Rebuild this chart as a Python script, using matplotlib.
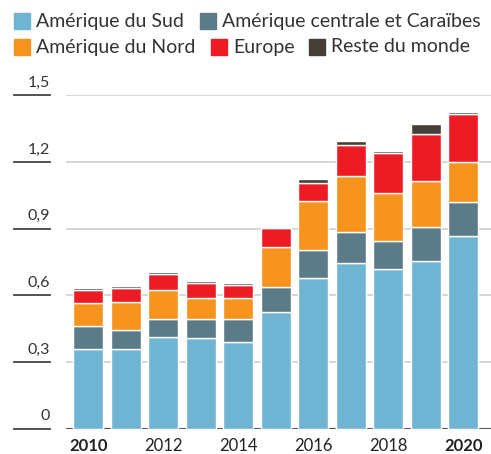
import matplotlib.pyplot as plt
import matplotlib.transforms as mtransforms
from matplotlib.patches import Rectangle
import numpy as np

plt.rcParams['font.family'] = ['Lato', 'DejaVu Sans']

years = np.arange(2010, 2021)
series_names = ["Amérique du Sud", "Amérique centrale et Caraïbes",
                "Amérique du Nord", "Europe", "Reste du monde"]
sud = [0.360, 0.360, 0.414, 0.408, 0.390, 0.527, 0.677, 0.744, 0.719, 0.755, 0.869]
centrale = [0.102, 0.084, 0.080, 0.087, 0.104, 0.109, 0.129, 0.140, 0.126, 0.153, 0.151]
nord = [0.104, 0.128, 0.130, 0.092, 0.093, 0.183, 0.217, 0.252, 0.216, 0.205, 0.180]
europe = [0.060, 0.063, 0.072, 0.067, 0.060, 0.086, 0.084, 0.142, 0.181, 0.215, 0.215]
reste = [0.009, 0.007, 0.008, 0.009, 0.009, 0.003, 0.015, 0.015, 0.009, 0.042, 0.010]
yticks = [0, 0.3, 0.6, 0.9, 1.2, 1.5]
ytick_labels = ["0", "0,3", "0,6", "0,9", "1,2", "1,5"]
xtick_years = [2010, 2012, 2014, 2016, 2018, 2020]
bold_years = [2010, 2020]

colors = ["#6fb5d3", "#5c7b89", "#f7941d", "#ed1c24", "#463f35"]

W, H = 491, 454
fig = plt.figure(figsize=(W / 100, H / 100), dpi=100)
ax = fig.add_axes([66 / W, 1 - 428.7 / H, 1 - 66 / W, (428.7 - 95.3) / H])

# gridlines behind the bars
for v in yticks[1:]:
    ax.axhline(v, color="#d0d0d0", lw=1.2, zorder=0)
ax.axhline(0, color="#555555", lw=1.5, zorder=0)

bottom = np.zeros(len(years))
for vals, c in zip([sud, centrale, nord, europe, reste], colors):
    ax.bar(years, vals, width=0.8, bottom=bottom, color=c,
           edgecolor="white", linewidth=1, zorder=2)
    bottom += np.array(vals)

ax.set_xlim(2009.405, 2020.74)
ax.set_ylim(0, 1.5)
ax.axis("off")

# y labels with short underline at the left
trans = mtransforms.blended_transform_factory(fig.transFigure, ax.transData)
for v, lab in zip(yticks, ytick_labels):
    ax.plot([14 / W, 50 / W], [v, v], transform=trans, color="#444444",
            lw=1.3, clip_on=False)
    ax.text(50 / W, v + 0.025, lab, transform=trans, ha="right", va="bottom",
            fontsize=11.5, color="#333333")

# x labels
for y in xtick_years:
    ax.text(y, -0.04, str(y), ha="center", va="top", fontsize=12,
            color="#222222", fontweight="bold" if y in bold_years else "normal")

# legend laid out like the original, two rows
legend_pos = [(14, 21), (200, 21), (14, 47), (211, 47), (309, 47)]
for (lx, ly), name, c in zip(legend_pos, series_names, colors):
    fig.patches.append(Rectangle((lx / W, 1 - (ly + 8) / H), 16 / W, 16 / H,
                                 transform=fig.transFigure, color=c))
    fig.text((lx + 22) / W, 1 - ly / H, name, ha="left", va="center",
             fontsize=14, color="#333333")

fig.savefig("out.png", dpi=100)
